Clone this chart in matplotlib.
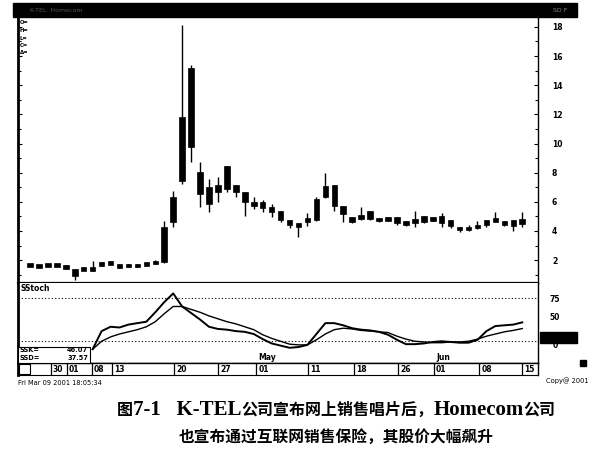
import matplotlib
matplotlib.use("Agg")
import matplotlib.pyplot as plt
from matplotlib.patches import Rectangle

W, H = 590, 450

# daily candles (open, high, low, close)
opens = [1.66, 1.60, 1.64, 1.66, 1.62, 1.38, 1.38, 1.25, 1.60, 1.85, 1.72, 1.62, 1.58, 1.68, 1.72,
         1.86, 4.60, 7.40, 9.73, 8.03, 5.83, 6.67, 6.85, 7.14, 6.67, 5.95, 5.97, 5.62, 5.34, 4.73,
         4.53, 4.60, 4.73, 6.31, 7.13, 5.69, 4.94, 4.80, 5.34, 4.87, 4.67, 4.94, 4.67, 4.53, 4.60,
         4.94, 5.01, 4.73, 4.26, 4.19, 4.30, 4.39, 4.80, 4.67, 4.32, 4.46]
highs = [1.72, 1.66, 1.72, 1.72, 1.64, 1.40, 1.44, 1.93, 1.90, 1.92, 1.75, 1.70, 1.72, 1.80, 2.00,
         4.67, 6.72, 18.14, 15.40, 8.70, 7.54, 7.68, 8.45, 7.16, 6.70, 6.31, 6.11, 5.83, 5.36, 4.76,
         4.56, 5.21, 6.31, 7.95, 7.15, 5.72, 4.96, 5.62, 5.36, 4.90, 4.96, 4.96, 4.69, 5.34, 5.05,
         4.96, 5.21, 4.75, 4.28, 4.39, 4.67, 4.75, 5.27, 4.70, 4.75, 5.27]
lows = [1.62, 1.58, 1.62, 1.62, 1.40, 0.65, 1.32, 1.22, 1.58, 1.72, 1.45, 1.58, 1.55, 1.66, 1.70,
        1.80, 4.26, 7.20, 8.70, 5.62, 5.27, 5.98, 6.65, 6.31, 5.01, 5.49, 5.27, 4.94, 4.60, 4.19,
        3.57, 4.32, 4.70, 6.28, 5.34, 4.60, 4.55, 4.78, 4.78, 4.60, 4.65, 4.39, 4.36, 4.26, 4.58,
        4.67, 4.26, 4.19, 3.91, 3.98, 4.12, 4.26, 4.67, 4.36, 3.98, 4.26]
closes = [1.70, 1.62, 1.68, 1.64, 1.45, 0.90, 1.40, 1.55, 1.85, 1.78, 1.50, 1.64, 1.70, 1.78, 1.95,
          4.26, 6.31, 11.85, 15.20, 6.51, 6.99, 7.14, 8.43, 6.67, 5.98, 5.72, 5.56, 5.27, 4.73, 4.39,
          4.26, 4.87, 6.17, 7.06, 5.69, 5.14, 4.60, 5.08, 4.80, 4.68, 4.94, 4.53, 4.39, 4.80, 5.01,
          4.70, 4.53, 4.32, 4.05, 4.17, 4.34, 4.73, 4.70, 4.39, 4.73, 4.80]

# slow stochastic, starting at bar 7
stoch_start = 7
ssk = [9, 34, 40, 39, 43, 45, 47, 60, 74, 86, 68, 59, 50, 40, 37, 36, 34, 33, 30, 23, 17, 14,
       11, 12, 15, 30, 45, 45, 42, 38, 36, 35, 33, 29, 22, 16, 16, 17, 19, 20, 19, 18, 18, 22,
       34, 41, 42, 43, 46.07]
ssd = [9, 20, 26, 30, 33, 36, 40, 47, 58, 68, 68, 64, 60, 55, 51, 47, 44, 40, 36, 29, 24, 20,
       16, 15, 15, 22, 30, 36, 38, 37, 35, 34, 33, 32, 27, 23, 20, 19, 18, 18, 19, 19, 20, 23,
       27, 30, 33, 35, 37.57]

price_ticks = [2, 4, 6, 8, 10, 12, 14, 16, 18]
date_pos = [2.3, 4.1, 6.9, 9.2, 16.1, 21.0, 25.3, 31.1, 36.2, 41.1, 45.1, 50.2, 55.0]
date_labels = ["30", "01", "08", "13", "20", "27", "01", "11", "18", "26", "01", "08", "15"]
month_labels = {25.3: "May", 45.1: "Jun"}

# caption pieces: (text, is_latin)
caption1 = [("图", False), ("7-1   K-TEL", True), ("公司宣布网上销售唱片后，", False),
            ("Homecom", True), ("公司", False)]
caption2 = "也宣布通过互联网销售保险，其股价大幅飙升"

XLIM = (-1.34, 56.76)


def px_axes(fig, x0, y0, x1, y1):
    return fig.add_axes([x0 / W, 1 - y1 / H, (x1 - x0) / W, (y1 - y0) / H])


def fx(x):
    return x / W


def fy(y):
    return 1 - y / H


fig = plt.figure(figsize=(W / 100, H / 100), dpi=100)
small = dict(fontsize=5.5, fontweight="bold", color="black")

# --- price panel ---
ax = px_axes(fig, 18, 17, 538, 283)
idx = list(range(len(opens)))
ax.vlines(idx, lows, highs, color="black", linewidth=1.0)
bottoms = [min(o, c) for o, c in zip(opens, closes)]
heights = [max(abs(c - o), 0.24) for o, c in zip(opens, closes)]
bottoms = [b - (h - abs(c - o)) / 2 for b, h, o, c in zip(bottoms, heights, opens, closes)]
ax.bar(idx, heights, bottom=bottoms, width=0.62, color="black", edgecolor="black", linewidth=0.5)
ax.set_xlim(*XLIM)
ax.set_ylim(0.43, 18.68)
ax.set_yticks(price_ticks)
ax.set_yticks(range(1, 19), minor=True)
ax.set_yticklabels([str(t) for t in price_ticks])
ax.set_xticks([])
ax.tick_params(axis="y", which="both", left=True, right=True, labelleft=False, labelright=True,
               direction="in", length=3, width=0.8, pad=10, labelsize=5.5)
ax.tick_params(axis="y", which="minor", length=2)
for lab in ax.get_yticklabels():
    lab.set_fontweight("bold")
ax.spines["top"].set_visible(False)
ax.spines["left"].set_linewidth(2.0)
ax.spines["bottom"].set_linewidth(1.6)
ax.spines["right"].set_linewidth(1.0)

# OHLC legend marks at top-left
for k, s in enumerate(["O=", "H=", "L=", "C=", "Δ="]):
    fig.text(fx(20), fy(23 + k * 7.5), s, fontsize=3.8, fontweight="bold", va="center")

# --- stochastic panel ---
ax2 = px_axes(fig, 18, 283, 538, 363)
sx = list(range(stoch_start, stoch_start + len(ssk)))
ax2.plot(sx, ssd, color="black", linewidth=1.0)
ax2.plot(sx, ssk, color="black", linewidth=1.4)
ax2.axhline(80, color="black", linewidth=0.8, linestyle=(0, (1, 2)))
ax2.axhline(20, color="black", linewidth=0.8, linestyle=(0, (1, 2)))
ax2.set_xlim(*XLIM)
ax2.set_ylim(-10, 100.4)
ax2.set_xticks([])
ax2.set_yticks([])
ax2.spines["top"].set_visible(False)
ax2.spines["left"].set_linewidth(2.0)
ax2.spines["right"].set_linewidth(1.0)
ax2.spines["bottom"].set_linewidth(1.0)
ax2.text(0.005, 0.93, "SStoch", transform=ax2.transAxes, ha="left", va="center", **small)
for lab, yy in [("75", 299), ("50", 318), ("0", 346)]:
    fig.text(fx(555), fy(yy), lab, ha="center", va="center", **small)
fig.patches.append(Rectangle((fx(540), fy(343)), fx(37), 11 / H, transform=fig.transFigure,
                             facecolor="black", edgecolor="black"))

# SSK / SSD readout box
fig.patches.append(Rectangle((fx(18), fy(363)), fx(72), 16 / H, transform=fig.transFigure,
                             facecolor="white", edgecolor="black", linewidth=0.8, zorder=5))
box_txt = dict(fontsize=4.8, fontweight="bold", va="center", zorder=6)
fig.text(fx(20), fy(350.5), "SSK=", ha="left", **box_txt)
fig.text(fx(88), fy(350.5), "46.07", ha="right", **box_txt)
fig.text(fx(20), fy(358), "SSD=", ha="left", **box_txt)
fig.text(fx(88), fy(358), "37.57", ha="right", **box_txt)

# --- date row ---
ax3 = px_axes(fig, 18, 363, 538, 375)
ax3.set_xlim(*XLIM)
ax3.set_ylim(0, 1)
ax3.set_xticks([])
ax3.set_yticks([])
ax3.vlines(date_pos, 0, 1, color="black", linewidth=0.9)
for p, lab in zip(date_pos, date_labels):
    ax3.text(p + 0.25, 0.45, lab, ha="left", va="center", **small)
for p, lab in month_labels.items():
    ax3.text(p + 0.25, 1.5, lab, ha="left", va="center", clip_on=False, **small)
ax3.spines["top"].set_linewidth(1.0)
ax3.spines["bottom"].set_linestyle((0, (2, 1)))
ax3.spines["left"].set_linewidth(2.0)
ax3.spines["right"].set_linewidth(1.0)
ax3.add_patch(Rectangle((-1.2, 0.1), 1.2, 0.8, facecolor="white", edgecolor="black", linewidth=0.8))

# --- header bar and footer text ---
fig.patches.append(Rectangle((fx(13), fy(17)), fx(564), 14 / H, transform=fig.transFigure,
                             facecolor="black", edgecolor="black"))
fig.text(fx(30), fy(10), "K-TEL  Homecom", fontsize=4.5, color="#555555", va="center")
fig.text(fx(560), fy(10), "SD F", fontsize=4.5, color="#888888", va="center", ha="center")
fig.text(fx(18), fy(383), "Fri Mar 09 2001 18:05:34", fontsize=4.8, va="center")
fig.text(fx(588), fy(381), "Copy@ 2001", fontsize=4.8, va="center", ha="right")
fig.patches.append(Rectangle((fx(580), fy(366)), fx(6), 6 / H, transform=fig.transFigure,
                             facecolor="black", edgecolor="black"))

# --- caption: latin parts in bold serif, Chinese in bold CJK, laid out piece by piece ---
cjk_font = ["Noto Sans CJK SC", "DejaVu Sans"]
lat_font = ["Liberation Serif", "Noto Sans CJK SC"]
renderer = fig.canvas.get_renderer()
pieces = []
for txt, latin in caption1:
    t = fig.text(0, fy(410), txt, ha="left", va="center", fontweight="bold",
                 fontsize=15 if latin else 11.5, family=lat_font if latin else cjk_font)
    pieces.append(t)
widths = [t.get_window_extent(renderer).width for t in pieces]
x = 336 - sum(widths) / 2
for t, w in zip(pieces, widths):
    t.set_x(fx(x))
    x += w
fig.text(fx(336), fy(437), caption2, ha="center", va="center", fontsize=11.3,
         fontweight="bold", family=cjk_font)

fig.savefig("out.png", dpi=100)
